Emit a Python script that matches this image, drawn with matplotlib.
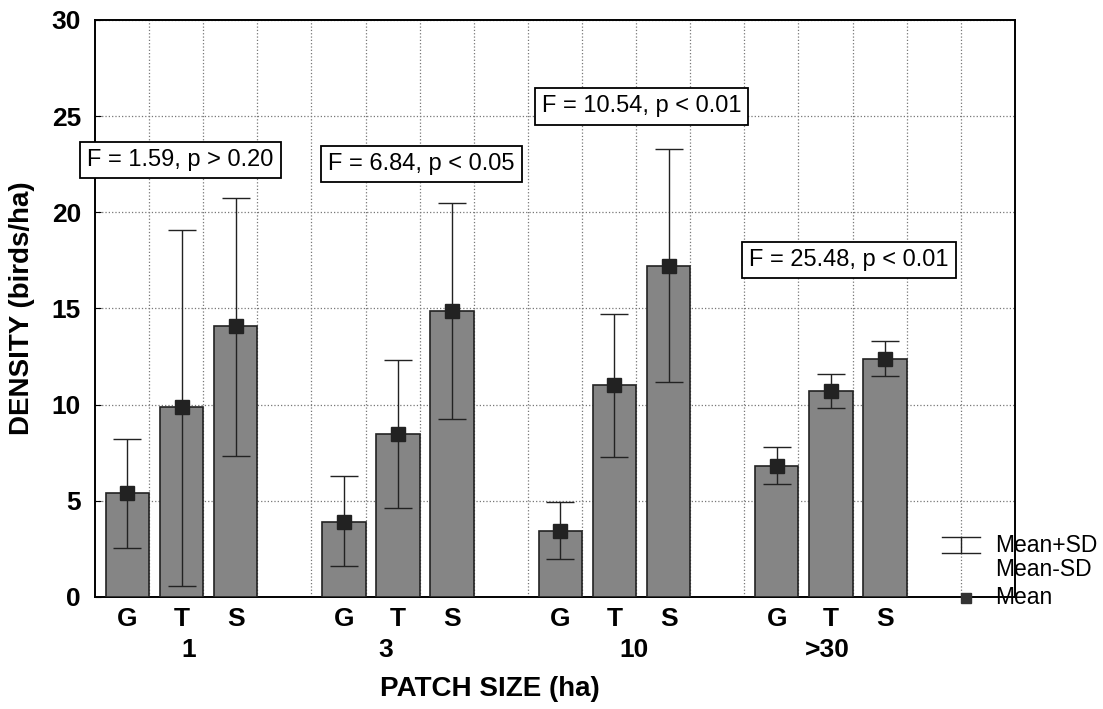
import numpy as np
import matplotlib.pyplot as plt

plt.rcParams['font.family'] = ['Liberation Sans', 'DejaVu Sans']

# patch sizes and habitat types
groups = ["1", "3", "10", ">30"]
habitats = ["G", "T", "S"]

# mean density and mean +/- SD, in order G, T, S per patch size
means = [5.4, 9.9, 14.1,
         3.9, 8.45, 14.85,
         3.45, 11.0, 17.2,
         6.8, 10.7, 12.35]
upper = [8.2, 19.1, 20.75,
         6.3, 12.3, 20.5,
         4.95, 14.7, 23.3,
         7.8, 11.6, 13.3]
lower = [2.55, 0.57, 7.35,
         1.6, 4.6, 9.25,
         2.0, 7.3, 11.2,
         5.85, 9.8, 11.5]

stats = ["F = 1.59, p > 0.20", "F = 6.84, p < 0.05",
         "F = 10.54, p < 0.01", "F = 25.48, p < 0.01"]
stat_x = [1.98, 6.43, 10.5, 14.33]
stat_y = [22.7, 22.5, 25.5, 17.5]
group_x = [2.13, 5.78, 10.37, 13.94]

# bar positions: 3 bars per group, one empty slot between groups
xpos = [g * 4 + h + 1 for g in range(len(groups)) for h in range(len(habitats))]
means = np.array(means)
yerr = [means - np.array(lower), np.array(upper) - means]

fig = plt.figure(figsize=(11.03, 7.09), dpi=100)
ax = fig.add_axes([0.0861, 0.158, 0.834, 0.814])

ax.bar(xpos, means, width=0.8, color='#858585', edgecolor='#222222',
       linewidth=1.2, zorder=3)
ax.errorbar(xpos, means, yerr=yerr, fmt='none', ecolor='#222222',
            elinewidth=1, capsize=10, capthick=1, zorder=4)
ax.plot(xpos, means, 's', color='#222222', markersize=10, zorder=5)

ax.set_xlim(0.4, 17.4)
ax.set_ylim(0, 30)
ax.set_yticks(range(0, 31, 5))
ax.set_xticks(xpos)
ax.set_xticklabels(habitats * len(groups), fontsize=19, fontweight='bold')
ax.set_xticks(np.arange(1.4, 17, 1), minor=True)
ax.tick_params(axis='x', which='both', length=0, pad=7)
ax.tick_params(axis='y', length=4, direction='in', pad=10, labelsize=19)
for lbl in ax.get_yticklabels():
    lbl.set_fontweight('bold')

ax.grid(axis='y', which='major', linestyle=':', color='#777777', linewidth=0.9)
ax.grid(axis='x', which='minor', linestyle=':', color='#777777', linewidth=0.9)
ax.set_axisbelow(True)
for sp in ax.spines.values():
    sp.set_linewidth(1.4)

for gx, g in zip(group_x, groups):
    ax.text(gx, -2.75, g, ha='center', va='center', fontsize=19,
            fontweight='bold', clip_on=False)

for sx, sy, s in zip(stat_x, stat_y, stats):
    ax.text(sx, sy, s, ha='center', va='center', fontsize=17, clip_on=False,
            zorder=6, bbox=dict(boxstyle='square,pad=0.3', facecolor='white',
                                edgecolor='black', linewidth=1.3))

ax.text(7.7, -4.8, "PATCH SIZE (ha)", ha='center', va='center', fontsize=20,
        fontweight='bold', clip_on=False)
ax.set_ylabel("DENSITY (birds/ha)", fontsize=20, fontweight='bold', labelpad=12)

# legend drawn outside the axes in figure pixels
fig.lines.append(plt.Line2D([942 / 1103, 980 / 1103], [1 - 537 / 709] * 2,
                            color='#222222', linewidth=1, transform=fig.transFigure))
fig.lines.append(plt.Line2D([942 / 1103, 980 / 1103], [1 - 553 / 709] * 2,
                            color='#222222', linewidth=1, transform=fig.transFigure))
fig.lines.append(plt.Line2D([961 / 1103, 961 / 1103], [1 - 537 / 709, 1 - 553 / 709],
                            color='#222222', linewidth=1, transform=fig.transFigure))
fig.lines.append(plt.Line2D([966 / 1103], [1 - 598 / 709], marker='s',
                            markersize=7, color='#333333', linestyle='none',
                            transform=fig.transFigure))
fig.text(995 / 1103, 1 - 545 / 709, "Mean+SD", fontsize=16.5, va='center')
fig.text(995 / 1103, 1 - 569 / 709, "Mean-SD", fontsize=16.5, va='center')
fig.text(995 / 1103, 1 - 598 / 709, "Mean", fontsize=16.5, va='center')

fig.savefig("out.png", dpi=100)
